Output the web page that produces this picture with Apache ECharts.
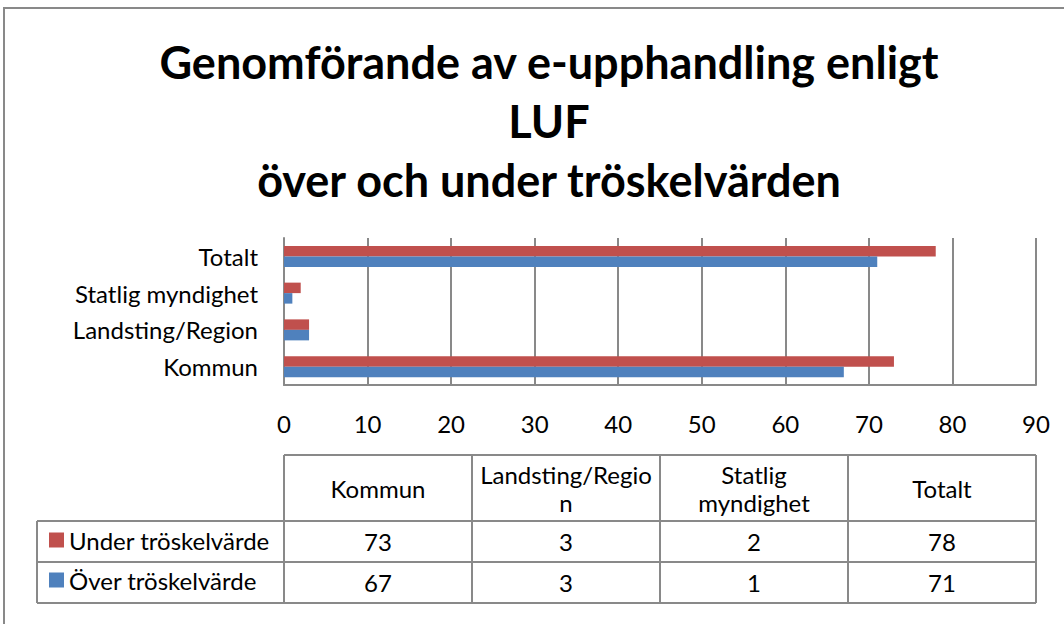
<!DOCTYPE html>
<html>
<head>
  <meta charset="utf-8">
  <title>Genomförande av e-upphandling enligt LUF</title>
  <script src="https://cdn.jsdelivr.net/npm/echarts@6/dist/echarts.min.js"></script>
  <style>
    html, body { margin: 0; padding: 0; background: #fff; }
    #chart { width: 1064px; height: 624px; }
  </style>
</head>
<body>
<div id="chart"></div>
<script>
// data
const categories = ['Kommun', 'Landsting/Region', 'Statlig myndighet', 'Totalt']
const tableHeaders = ['Kommun', 'Landsting/Regio\nn', 'Statlig\nmyndighet', 'Totalt']
const underName = 'Under tröskelvärde'
const overName = 'Över tröskelvärde'
const underValues = [73, 3, 2, 78]
const overValues = [67, 3, 1, 71]
const axisMin = 0
const axisMax = 90
const axisStep = 10

const RED = '#C0504D'
const BLUE = '#4F81BD'
const LINE = '#898989'
const FONT = 'Lato'
const FS = 24

// tabellens layout
const tbl = {
  legendLeft: 37,
  colLeft: 284,
  colW: 188,
  headTop: 455,
  headBottom: 521,
  rowH: 41
}

function tableGraphics() {
  let els = []
  let right = tbl.colLeft + tbl.colW * categories.length
  let rowsBottom = tbl.headBottom + tbl.rowH * 2
  let line = function (x1, y1, x2, y2) {
    els.push({
      type: 'line', silent: true,
      shape: {x1: x1, y1: y1, x2: x2, y2: y2},
      style: {stroke: LINE, lineWidth: 2}
    })
  }
  line(tbl.colLeft, tbl.headTop, right, tbl.headTop)
  for (let r = 0; r <= 2; r++) {
    let y = tbl.headBottom + r * tbl.rowH
    line(tbl.legendLeft, y, right, y)
  }
  line(tbl.legendLeft, tbl.headBottom, tbl.legendLeft, rowsBottom)
  for (let c = 0; c <= categories.length; c++) {
    let x = tbl.colLeft + c * tbl.colW
    line(x, tbl.headTop, x, rowsBottom)
  }
  let rows = [underValues, overValues]
  for (let c = 0; c < categories.length; c++) {
    let cx = tbl.colLeft + c * tbl.colW + tbl.colW / 2
    els.push({
      type: 'text', silent: true,
      x: cx, y: (tbl.headTop + tbl.headBottom) / 2,
      style: {
        text: tableHeaders[c], fontSize: FS, fontFamily: FONT, fill: '#000',
        align: 'center', verticalAlign: 'middle', lineHeight: 28
      }
    })
    rows.forEach(function (vals, r) {
      els.push({
        type: 'text', silent: true,
        x: cx, y: tbl.headBottom + r * tbl.rowH + tbl.rowH / 2,
        style: {
          text: String(vals[c]), fontSize: FS, fontFamily: FONT, fill: '#000',
          align: 'center', verticalAlign: 'middle'
        }
      })
    })
  }
  // ram runt hela diagrammet
  els.push({
    type: 'rect', silent: true,
    shape: {x: 4, y: 8, width: 1080, height: 640},
    style: {fill: 'none', stroke: LINE, lineWidth: 2}
  })
  return els
}

let chart = echarts.init(document.getElementById('chart'), null, {renderer: 'svg'})
chart.setOption({
  backgroundColor: '#fff',
  animation: false,
  title: {
    text: 'Genomförande av e-upphandling enligt\nLUF\növer och under tröskelvärden',
    left: 544,
    top: 27,
    textAlign: 'center',
    textStyle: {
      fontFamily: FONT,
      fontWeight: 'bold',
      fontSize: 45,
      lineHeight: 59,
      color: '#000'
    }
  },
  legend: {
    data: [underName, overName],
    orient: 'vertical',
    left: 44,
    top: 523,
    itemGap: 16,
    itemWidth: 15,
    itemHeight: 15,
    icon: 'rect',
    textStyle: {fontFamily: FONT, fontSize: FS, color: '#000', lineHeight: 24}
  },
  grid: {
    left: 284,
    right: 28,
    top: 238,
    height: 147,
    containLabel: false
  },
  xAxis: {
    type: 'value',
    min: axisMin,
    max: axisMax,
    interval: axisStep,
    axisLine: {show: true, lineStyle: {color: LINE, width: 2}},
    axisTick: {show: false},
    axisLabel: {fontFamily: FONT, fontSize: FS, color: '#000', margin: 26},
    splitLine: {show: true, lineStyle: {color: LINE, width: 2}}
  },
  yAxis: {
    type: 'category',
    data: categories,
    axisLine: {show: true, lineStyle: {color: LINE, width: 2}},
    axisTick: {show: false},
    axisLabel: {fontFamily: FONT, fontSize: FS, color: '#000', margin: 26}
  },
  series: [
    {
      name: underName,
      type: 'bar',
      data: underValues,
      barWidth: 10.5,
      barGap: '0%',
      itemStyle: {color: RED}
    },
    {
      name: overName,
      type: 'bar',
      data: overValues,
      barWidth: 10.5,
      barGap: '0%',
      itemStyle: {color: BLUE}
    }
  ],
  graphic: tableGraphics()
})
</script>
</body>
</html>
